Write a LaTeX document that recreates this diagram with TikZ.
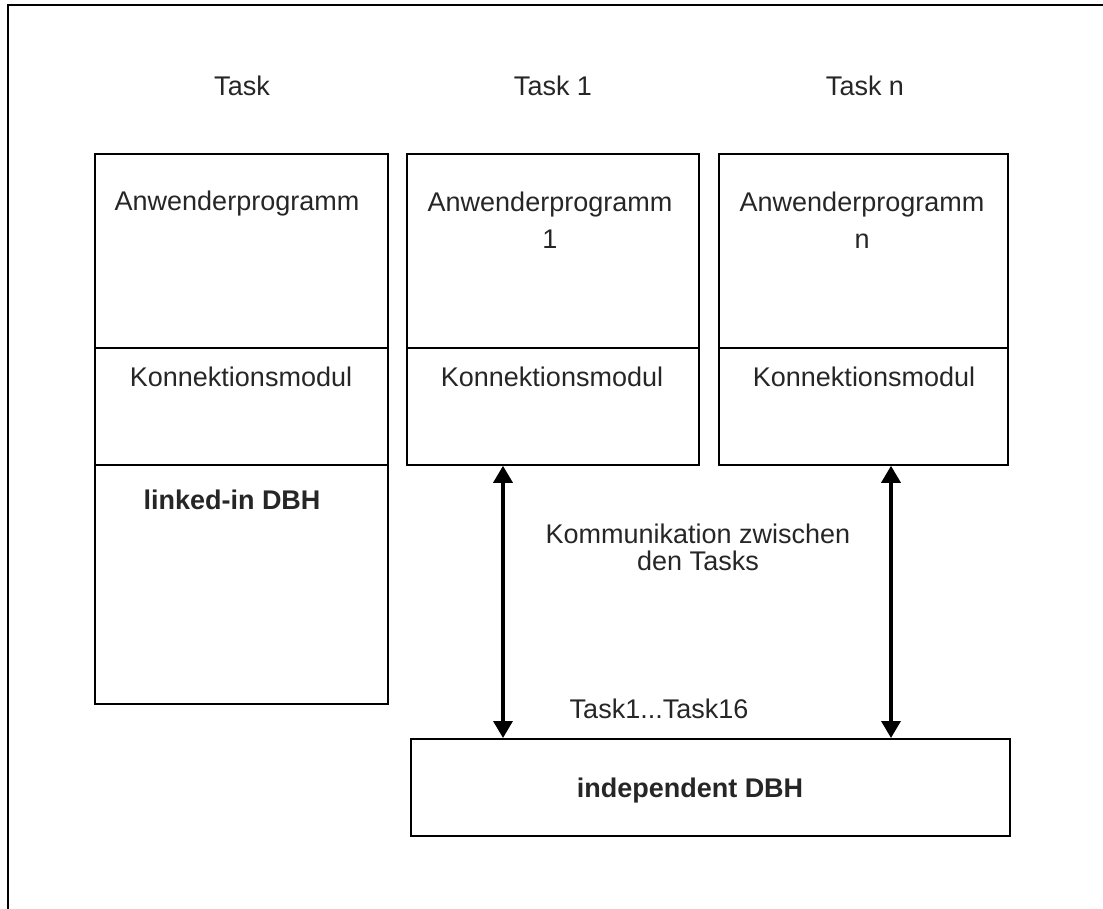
\documentclass[tikz,border=0pt]{standalone}
\usepackage{fontspec}
\setmainfont{Liberation Sans}
\usetikzlibrary{arrows.meta}
\begin{document}
\begin{tikzpicture}[x=1pt,y=-1pt,
  part/.style={draw=black,line width=1.8pt,inner sep=0pt,anchor=north west},
  lbl/.style={font=\fontsize{27}{28}\selectfont,text=black!85,inner sep=0pt,anchor=base},
  blbl/.style={lbl,font=\fontsize{27}{28}\selectfont\bfseries},
  arr/.style={line width=3.5pt,{Triangle[length=17pt,width=19pt]}-{Triangle[length=17pt,width=19pt]}},
  frame/.style={line width=2pt,draw=black}
]
\useasboundingbox (0,0) rectangle (1103,909);
% outer frame (only top and left visible)
\coordinate (fbl) at (8,915);
\coordinate (ftl) at (8,5);
\coordinate (ftr) at (1110,5);
\draw[frame] (fbl) -- (ftl) -- (ftr);

% column headers
\node[lbl] (t0) at (242,96) {Task};
\node[lbl] (t1) at (553,96) {Task 1};
\node[lbl] (tn) at (865,96) {Task n};

% left task
\node[part,minimum width=293pt,minimum height=194pt] (a0) at (94,153) {};
\node[part,minimum width=293pt,minimum height=117pt] (k0) at (94,347) {};
\node[part,minimum width=293pt,minimum height=239pt] (d0) at (94,464) {};
% task 1
\node[part,minimum width=292pt,minimum height=194pt] (a1) at (406,153) {};
\node[part,minimum width=292pt,minimum height=117pt] (k1) at (406,347) {};
% task n
\node[part,minimum width=289pt,minimum height=194pt] (an) at (718,153) {};
\node[part,minimum width=289pt,minimum height=117pt] (kn) at (718,347) {};
% independent DBH
\node[part,minimum width=599pt,minimum height=97pt] (ind) at (410,738) {};

% texts
\node[lbl] (a0t) at (237,211) {Anwenderprogramm};
\node[lbl] (a1t) at (550,212) {Anwenderprogramm};
\node[lbl] (a1n) at (550,249) {1};
\node[lbl] (ant) at (862,212) {Anwenderprogramm};
\node[lbl] (ann) at (862,249) {n};
\node[lbl] (k0t) at (241,386) {Konnektionsmodul};
\node[lbl] (k1t) at (552,386) {Konnektionsmodul};
\node[lbl] (knt) at (864,386) {Konnektionsmodul};
\node[blbl] (d0t) at (232,509) {linked-in DBH};
\node[lbl] (kom1) at (698,543) {Kommunikation zwischen};
\node[lbl] (kom2) at (698,570) {den Tasks};
\node[lbl] (tt) at (659,718) {Task1...Task16};
\node[blbl] (indt) at (690,797) {independent DBH};

% arrows
\coordinate (x1) at (503,0);
\coordinate (x2) at (891,0);
\draw[arr] (x1 |- k1.south) -- (x1 |- ind.north);
\draw[arr] (x2 |- kn.south) -- (x2 |- ind.north);
\end{tikzpicture}
\end{document}
